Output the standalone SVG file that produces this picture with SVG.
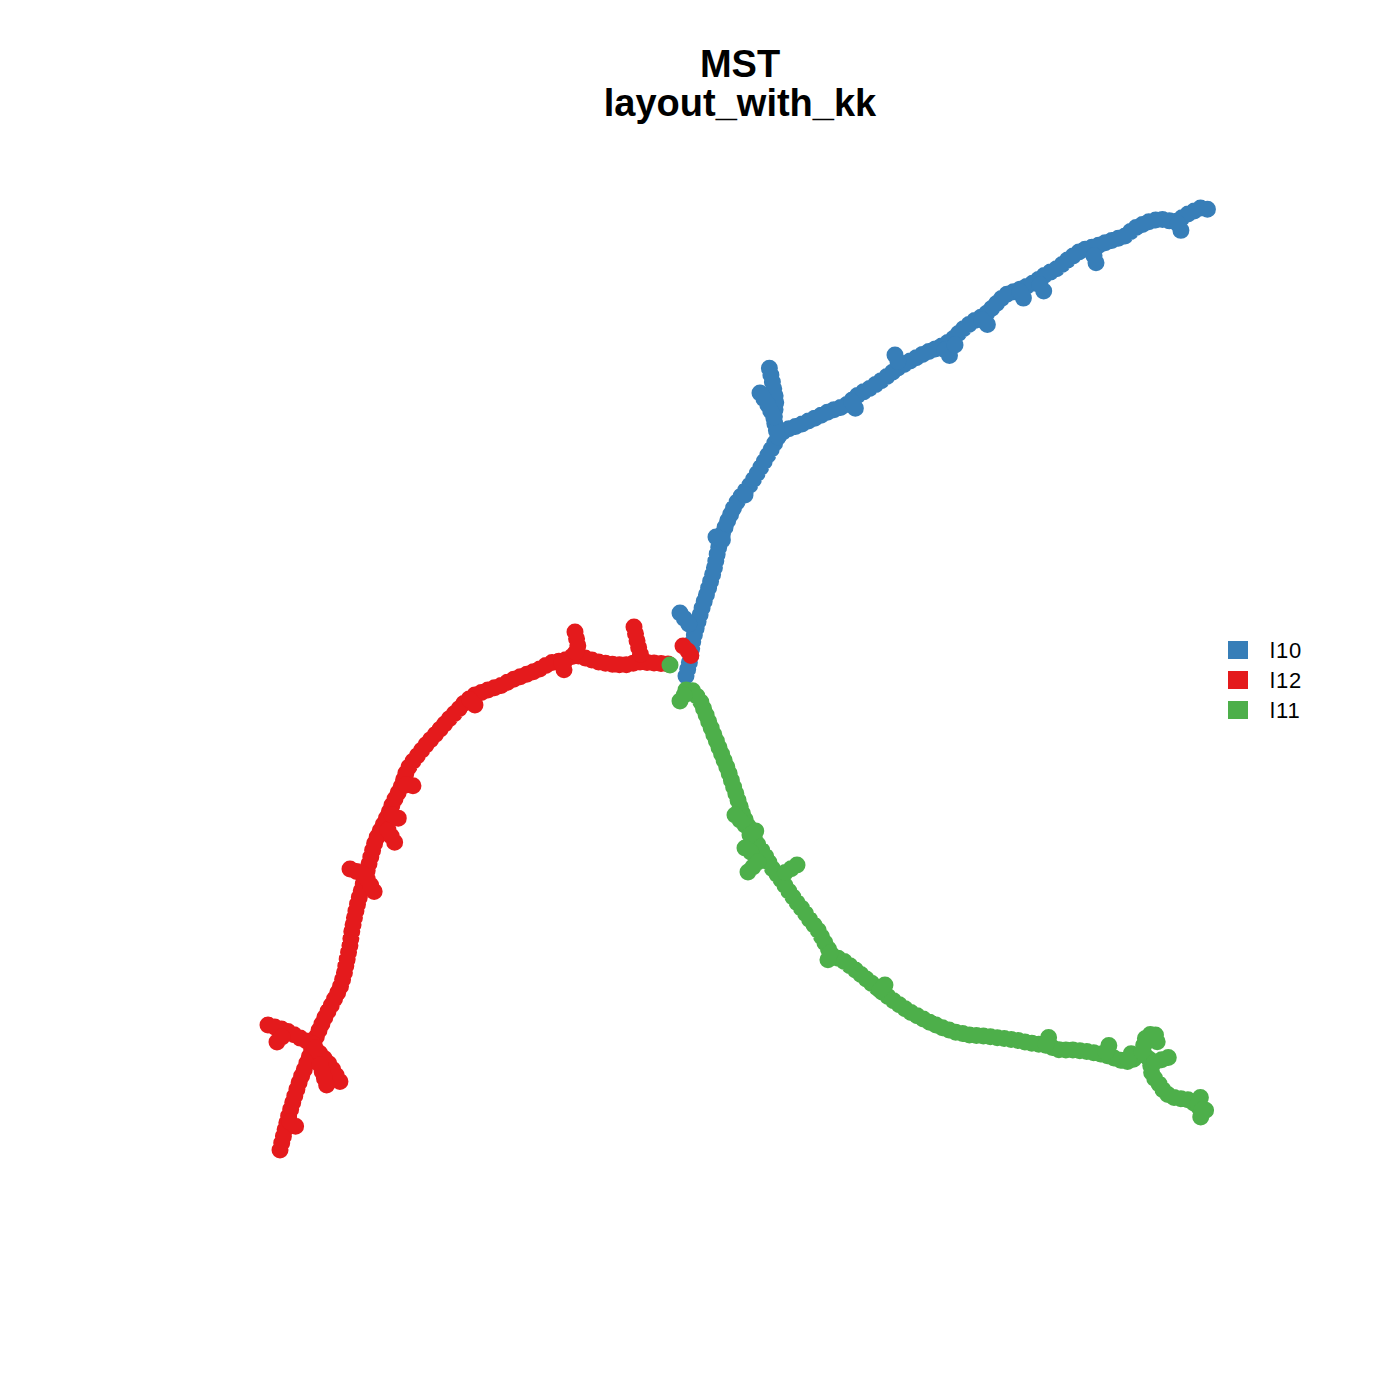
<svg xmlns="http://www.w3.org/2000/svg" width="1400" height="1400" viewBox="0 0 1400 1400">
<style>
.t{font-family:"Liberation Sans",Arial,sans-serif;font-weight:bold;font-size:38px;text-anchor:middle;fill:#000}
.lg{font-family:"Liberation Sans",Arial,sans-serif;font-size:22px;letter-spacing:1px;fill:#000}
.p{fill:none;stroke-width:17;stroke-linecap:round;stroke-linejoin:round;stroke-dasharray:0 7}
.b{stroke:#377EB8}.r{stroke:#E41A1C}.g{stroke:#4DAF4A}
</style>
<rect width="1400" height="1400" fill="#fff"/>
<text class="t" x="740" y="77">MST</text>
<text class="t" x="740" y="116">layout_with_kk</text>
<g id="edges">
<polyline class="p b" points="686,676 690,660 693,640 697,625 703,605 708,590 714,570 718,550 722,535 728,520 735,505 742,495 750,485 758,472 765,460 772,448 778,437 785,430 800,425 815,418 830,411 845,406 858,395 872,387 885,378 898,368 912,360 925,353 940,347 952,340 962,330 972,322 985,315 995,305 1005,295 1018,290 1030,285 1045,275 1058,268 1070,258 1082,250 1097,246 1110,241 1125,236 1135,228 1148,222 1160,219 1175,222 1188,214 1200,208 1212,210"/>
<polyline class="p b" points="680,613 692,628"/>
<polyline class="p b" points="778,437 774,420 776,400 772,380 768,362"/>
<polyline class="p b" points="760,393 768,405 775,420"/>
<polyline class="p b" points="852,402 858,413"/>
<polyline class="p b" points="895,355 900,366"/>
<polyline class="p b" points="945,350 950,356"/>
<polyline class="p b" points="955,345 961,348"/>
<polyline class="p b" points="982,320 988,325"/>
<polyline class="p b" points="1020,292 1025,301"/>
<polyline class="p b" points="1040,285 1045,293"/>
<polyline class="p b" points="1094,256 1097,266"/>
<polyline class="p b" points="1178,224 1183,235"/>
<polyline class="p b" points="745,495 750,499"/>
<polyline class="p b" points="716,537 727,542"/>
<polyline class="p r" points="668,664 655,663 640,662 625,665 610,664 598,662 585,658 575,655 565,660 550,663 538,670 525,675 512,680 500,686 488,690 475,695 465,702 458,710 450,718 442,727 433,737 425,746 418,755 410,765 405,775 402,785 397,795 392,805 388,815 383,825 378,835 374,845 370,860 366,875 362,888 358,902 355,915 352,930 350,945 347,960 344,975 340,988 333,1002 326,1015 320,1028 315,1040 310,1055 305,1068 300,1080 296,1092 292,1105 288,1118 285,1130 280,1150"/>
<polyline class="p r" points="683,646 692,655 686,658"/>
<polyline class="p r" points="575,632 578,645 575,655"/>
<polyline class="p r" points="634,627 638,645 642,660"/>
<polyline class="p r" points="562,663 565,673"/>
<polyline class="p r" points="470,700 478,708"/>
<polyline class="p r" points="388,830 395,843"/>
<polyline class="p r" points="392,815 402,820"/>
<polyline class="p r" points="406,785 415,786"/>
<polyline class="p r" points="350,869 365,875 375,893"/>
<polyline class="p r" points="268,1025 285,1030 300,1038 315,1045"/>
<polyline class="p r" points="277,1042 285,1034"/>
<polyline class="p r" points="315,1048 330,1065 342,1085"/>
<polyline class="p r" points="320,1065 327,1086"/>
<polyline class="p r" points="290,1122 298,1128"/>
<polyline class="p g" points="686,690 692,690 700,700 705,712 710,725 716,740 722,755 728,770 733,785 738,800 743,815 750,830 758,845 765,855 772,868 780,878 788,890 795,900 803,910 810,920 818,930 825,943 832,955 845,962 858,972 870,982 882,992 895,1002 910,1012 925,1020 940,1027 955,1032 970,1035 985,1036 1000,1038 1015,1040 1030,1043 1045,1045 1060,1050 1075,1050 1090,1052 1105,1055 1120,1060 1130,1062 1142,1052 1150,1060 1152,1075 1160,1085 1165,1093 1175,1098 1190,1100 1200,1108 1210,1112"/>
<polyline class="p g" points="670,665 672,665"/>
<polyline class="p g" points="680,701 688,690"/>
<polyline class="p g" points="735,815 745,825"/>
<polyline class="p g" points="750,835 760,828"/>
<polyline class="p g" points="745,848 755,855"/>
<polyline class="p g" points="748,872 760,860"/>
<polyline class="p g" points="797,865 780,876"/>
<polyline class="p g" points="830,953 826,966"/>
<polyline class="p g" points="880,990 887,983"/>
<polyline class="p g" points="1046,1044 1050,1034"/>
<polyline class="p g" points="1106,1052 1110,1043"/>
<polyline class="p g" points="1128,1060 1133,1050"/>
<polyline class="p g" points="1142,1052 1146,1036 1155,1033 1158,1045"/>
<polyline class="p g" points="1155,1062 1170,1057"/>
<polyline class="p g" points="1198,1104 1202,1093"/>
<polyline class="p g" points="1202,1110 1200,1121"/>
</g>
<g id="legend">
<rect x="1228" y="641" width="20" height="18" fill="#377EB8"/>
<rect x="1228" y="671" width="20" height="18" fill="#E41A1C"/>
<rect x="1228" y="701" width="20" height="18" fill="#4DAF4A"/>
<text class="lg" x="1270" y="658">l10</text>
<text class="lg" x="1270" y="688">l12</text>
<text class="lg" x="1270" y="718">l11</text>
</g>
</svg>
